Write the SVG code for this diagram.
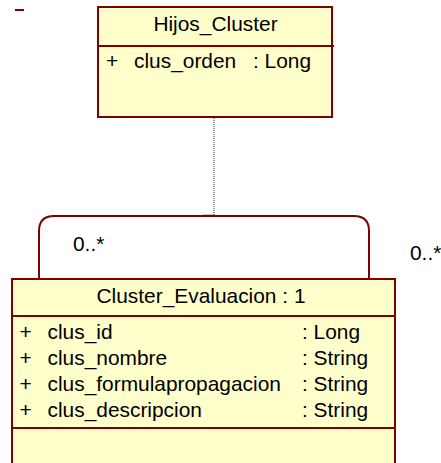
<svg xmlns="http://www.w3.org/2000/svg" width="441" height="463" viewBox="0 0 441 463">
<style>
.box{fill:#FFFFCC;stroke:#800000;stroke-width:2}
.sep{stroke:#800000;stroke-width:2}
text{font-family:"Liberation Sans",Arial,sans-serif;font-size:20.9px;fill:#000}
</style>
<rect width="441" height="463" fill="#fff"/>
<line x1="15" y1="10" x2="24" y2="10" stroke="#800000" stroke-width="2"/>
<g id="connectors">
<line x1="214" y1="118" x2="214" y2="215" stroke="#333" stroke-width="1" stroke-dasharray="1,1"/>
<line x1="203" y1="215" x2="214" y2="215" stroke="#888" stroke-width="1"/>
<path d="M39,278 V231 Q39,216 54,216 H354 Q369,216 369,231 V278" fill="none" stroke="#800000" stroke-width="2"/>
<text x="73" y="251">0..*</text>
<text x="410" y="260">0..*</text>
</g>
<g id="Hijos_Cluster">
<rect class="box" x="98" y="7" width="234" height="110"/>
<line class="sep" x1="98" y1="46" x2="334" y2="46"/>
<text x="215.5" y="31" text-anchor="middle">Hijos_Cluster</text>
<text x="106" y="68">+</text>
<text x="134" y="68">clus_orden</text>
<text x="253" y="68">: Long</text>
</g>
<g id="Cluster_Evaluacion">
<rect class="box" x="12" y="279" width="383" height="200"/>
<line class="sep" x1="11" y1="279" x2="396" y2="279"/>
<line class="sep" x1="12" y1="316" x2="395" y2="316"/>
<line class="sep" x1="12" y1="428" x2="395" y2="428"/>
<text x="201" y="303" text-anchor="middle">Cluster_Evaluacion : 1</text>
<text x="19.5" y="339">+</text><text x="47.5" y="339">clus_id</text><text x="302" y="339">: Long</text>
<text x="19.5" y="365">+</text><text x="47.5" y="365">clus_nombre</text><text x="302" y="365">: String</text>
<text x="19.5" y="391">+</text><text x="47.5" y="391">clus_formulapropagacion</text><text x="302" y="391">: String</text>
<text x="19.5" y="417">+</text><text x="47.5" y="417">clus_descripcion</text><text x="302" y="417">: String</text>
</g>
</svg>
